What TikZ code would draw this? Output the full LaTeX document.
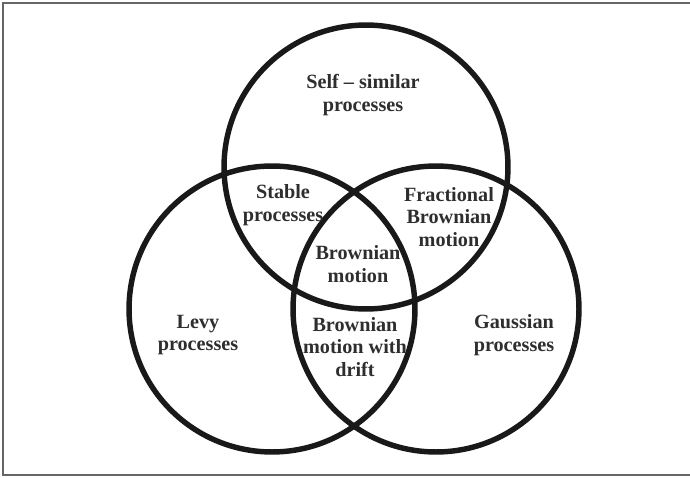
\documentclass[tikz,border=0pt]{standalone}
\usepackage{fontspec}
\setmainfont{Liberation Serif}
\usepackage{tikz}
\usetikzlibrary{positioning}
\tikzset{x=0.02cm, y=-0.02cm, font=\fontsize{11.5}{12.8}\bfseries\selectfont}
\tikzstyle{set} = [draw=black!90, line width=3.1pt, circle, inner sep=0pt, minimum size=5.72cm]
\tikzstyle{label} = [text=black!82, align=center, inner sep=0pt]
\tikzstyle{frame} = [draw=black!60, line width=1.1pt]

\begin{document}
\begin{tikzpicture}
    \useasboundingbox (0,0) rectangle (690,477);
    \draw [frame] (690,3) -| (3,475) -- (690,475);

    % the three sets
    \node [set, minimum size=5.68cm] (selfsim) at (366,167) {};
    \node [set] (levy) at (272,309) {};
    \node [set] (gauss) at (436,309) {};

    % regions
    \node [label] (selfsimtext) at (363,95) {Self -- similar\\processes};
    \node [label] (stable) at (283,205) {Stable\\processes};
    \node [label] (fbm) at (449,217) {Fractional\\Brownian\\motion};
    \node [label] (bm) at (358,264) {Brownian\\motion};
    \node [label] (levytext) at (198,335) {Levy\\processes};
    \node [label] (drift) at (355,347) {Brownian\\motion with\\drift};
    \node [label] (gausstext) at (514,335) {Gaussian\\processes};
\end{tikzpicture}
\end{document}
